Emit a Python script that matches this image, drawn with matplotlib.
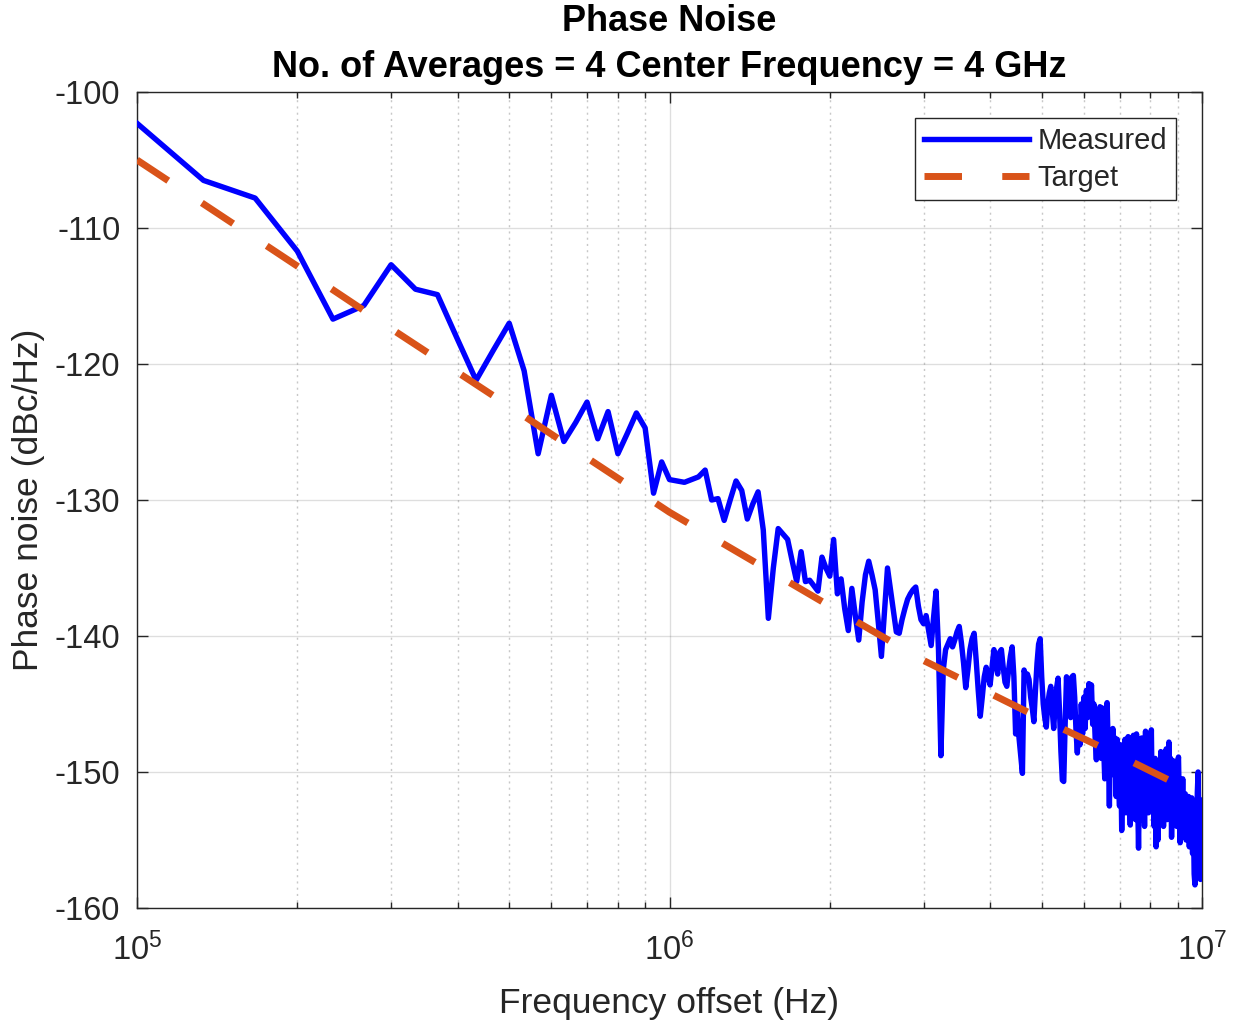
import numpy as np
import matplotlib
matplotlib.use("Agg")
import matplotlib.pyplot as plt
from matplotlib.ticker import LogLocator, NullFormatter, FixedLocator

# ---------------- data ----------------
freq_start_hz = 1e5
freq_stop_hz = 1e7

measured_dbc = [
    -102.3, -106.5, -107.8, -111.7, -116.7, -115.7, -112.7, -114.5, -114.9, -118.2,
    -121.2, -119.0, -117.0, -120.5, -126.6, -122.3, -125.7, -124.3, -122.8, -125.5,
    -123.5, -126.6, -125.1, -123.6, -124.7, -129.5, -127.2, -128.5, -128.6, -128.7,
    -128.5, -128.3, -127.8, -130.0, -129.9, -131.5, -130.0, -128.6, -129.3, -131.4,
    -130.3, -129.4,
    -132.2, -138.7, -135.0, -132.1, -132.5, -132.9, -134.5, -136.0, -133.8, -136.0,
    -135.9, -136.3, -136.7, -134.2, -135.0, -135.6, -132.9, -136.9, -135.8, -138.0,
    -139.6, -136.5, -138.5, -140.3, -137.5, -135.5, -134.5, -135.5, -136.6, -139.0,
    -141.5, -138.2, -135.0, -136.6, -138.2, -139.7, -139.8, -138.8, -138.0, -137.3,
    -136.9, -136.6, -136.4,
    -137.8, -138.8, -139.1, -138.5, -139.6, -140.7, -138.6, -136.7, -141.0, -148.8,
    -142.5, -141.0, -140.6, -140.2, -140.8, -140.3, -139.7, -139.3, -140.5, -142.0,
    -143.8, -142.5, -141.0, -140.2, -139.8, -141.8, -144.0, -145.9, -144.5, -143.0,
    -142.3, -143.0, -143.6, -142.3, -141.0, -142.0, -142.8, -141.2, -141.0, -142.3,
    -143.4, -143.7, -142.5, -141.5, -140.8, -143.0, -147.2, -145.5, -147.5, -148.8,
    -150.1, -142.5, -143.0, -142.8, -143.2, -144.5, -145.3, -146.3, -144.0, -142.0,
    -140.6, -140.2, -143.0, -145.0, -146.0, -146.7, -145.0, -144.2, -143.7, -145.5,
    -146.8, -145.0, -143.8, -143.1, -145.5,
    -148.5, -150.6, -150.7, -146.5, -143.0, -145.8, -143.2, -146.0, -143.0, -142.9,
    -144.5, -147.0, -148.6, -146.0, -148.0, -145.0, -147.2, -144.5, -146.8, -144.0,
    -146.0, -143.5, -145.8, -143.6, -146.5, -145.0,
    -147.5, -149.1, -146.0, -148.5, -145.2, -149.0, -145.3, -147.8, -150.5, -146.0,
    -144.9, -148.0, -152.5, -147.0, -150.2, -146.8, -149.5, -147.5, -151.8, -147.6,
    -150.5, -152.5, -148.0, -154.3, -149.5, -151.8, -147.6, -153.0, -148.4, -147.4,
    -151.5, -153.9, -148.8, -152.0, -147.3, -150.5, -153.5, -147.2, -151.5, -155.6,
    -150.0, -153.5, -147.5, -151.0, -149.0, -154.0, -147.0, -152.0, -149.5, -153.0,
    -147.2, -150.5, -146.9, -152.5, -150.0, -154.0, -149.0, -155.5, -151.0, -155.0,
    -149.5, -153.0, -148.5, -152.1, -150.0, -154.0, -149.5, -152.5, -148.3, -153.5,
    -150.0, -147.8, -152.0, -149.0, -154.8, -150.5, -153.0, -149.2, -152.5, -150.0,
    -154.0, -149.5, -148.9, -152.5, -155.2, -151.0, -153.8, -150.5, -154.5, -152.1,
    -151.6, -155.0, -152.0, -153.5, -151.8, -155.5, -152.1, -154.0, -151.9, -156.0,
    -153.0, -157.5, -158.3, -154.0, -156.5, -151.5, -150.0, -155.0, -152.0, -157.9,
    -156.0, -157.5,
]

target_freq_hz = [1e5, 2e5, 3e5, 5e5, 7e5, 1e6, 2e6, 3e6, 5e6, 7e6, 1e7]
target_dbc = [-105.0, -112.8, -117.4, -123.1, -126.9, -130.9, -137.8, -141.8, -146.1, -148.8, -151.8]

y_ticks = [-160, -150, -140, -130, -120, -110, -100]

title_lines = ["Phase Noise", "No. of Averages = 4 Center Frequency = 4 GHz"]
x_label = "Frequency offset (Hz)"
y_label = "Phase noise (dBc/Hz)"
series_names = ["Measured", "Target"]

# ---------------- style ----------------
plt.rcParams.update({
    "font.family": ["Liberation Sans", "DejaVu Sans"],
    "mathtext.fontset": "custom",
    "mathtext.rm": "Liberation Sans",
    "mathtext.it": "Liberation Sans:italic",
    "mathtext.bf": "Liberation Sans:bold",
    "axes.unicode_minus": False,
})

dark = (0.15, 0.15, 0.15)
freq_hz = np.linspace(freq_start_hz, freq_stop_hz, len(measured_dbc))

fig = plt.figure(figsize=(12.33, 10.21), dpi=100)
ax = fig.add_axes([137 / 1233, 1 - 908 / 1021, (1202 - 137) / 1233, (908 - 92) / 1021])

ax.plot(freq_hz, measured_dbc, color=(0, 0, 1), lw=3.9, label=series_names[0],
        solid_joinstyle="round", zorder=3)
ax.plot(target_freq_hz, target_dbc, color="#D95319", lw=5.0, dashes=(5.4, 5.8),
        dash_capstyle="butt", label=series_names[1], zorder=4)

ax.set_xscale("log")
ax.set_xlim(freq_start_hz, freq_stop_hz)
ax.set_ylim(-160, -100)
ax.yaxis.set_major_locator(FixedLocator(y_ticks))
ax.xaxis.set_major_locator(LogLocator(base=10))
ax.xaxis.set_minor_locator(LogLocator(base=10, subs=np.arange(2, 10)))
ax.xaxis.set_minor_formatter(NullFormatter())

ax.grid(True, which="major", color=dark, alpha=0.15, lw=1.0, ls="-")
ax.grid(True, which="minor", axis="x", color=dark, alpha=0.25, lw=1.0, ls=(0, (1.5, 3)))
ax.set_axisbelow(True)

ax.tick_params(which="both", direction="in", top=True, right=True, color=dark, width=1.0)
ax.tick_params(which="major", length=8, labelsize=23.5, labelcolor=dark)
ax.tick_params(which="minor", length=4)
ax.tick_params(axis="y", which="major", pad=12)
ax.tick_params(axis="x", which="major", pad=18)
for s in ax.spines.values():
    s.set_color(dark)
    s.set_linewidth(1.0)

ax.set_xlabel(x_label, fontsize=25.5, color=dark, labelpad=14)
ax.set_ylabel(y_label, fontsize=25.5, color=dark, labelpad=7)
ax.set_title("\n".join(title_lines), fontsize=26, fontweight="bold", color="black",
             pad=11, linespacing=1.38)

leg = ax.legend(loc="upper right", fontsize=21, frameon=True, fancybox=False,
                framealpha=1, edgecolor=dark, handlelength=3.6, handletextpad=0.3,
                borderpad=0.3, labelspacing=0.3, borderaxespad=0.9)
leg.get_frame().set_linewidth(1.0)
for t in leg.get_texts():
    t.set_color(dark)

fig.savefig("out.png", dpi=100, facecolor="white")
